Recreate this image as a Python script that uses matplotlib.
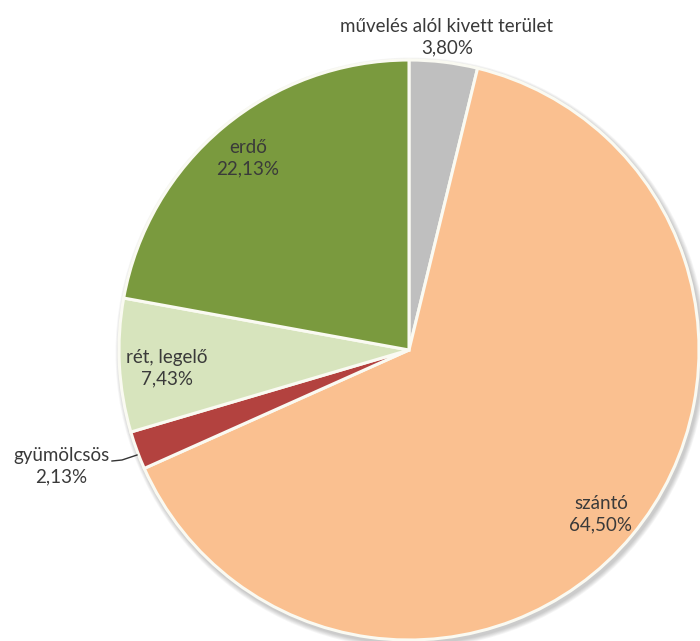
import matplotlib
matplotlib.use("Agg")
import matplotlib.pyplot as plt
import numpy as np

# land use shares (%)
categories = ["művelés alól kivett terület", "szántó", "gyümölcsös", "rét, legelő", "erdő"]
shares = [3.80, 64.50, 2.13, 7.43, 22.13]
colors = ["#BFBFBF", "#FAC090", "#B3423F", "#D7E4BD", "#7A9A3E"]

# label anchors, in units of the pie radius from the centre
label_pos = [(0.131, 1.08), (0.662, -0.566), (-1.20, -0.40), (-0.834, -0.062), (-0.555, 0.662)]

plt.rcParams["font.family"] = ["Lato", "DejaVu Sans"]

fig = plt.figure(figsize=(7.0, 6.41), dpi=100)
ax = fig.add_axes([0, 0, 1, 1])

cx, cy, r = 409, 641 - 350, 290

# soft shadow under the pie
for k in range(6):
    ax.add_patch(plt.Circle((cx + 2, cy - 3), r + 1.5 + k * 0.8, color="#000000",
                            alpha=0.035, lw=0, zorder=0))

wedges, _ = ax.pie(shares, colors=colors, startangle=90, counterclock=False,
                   center=(cx, cy), radius=r, frame=True,
                   wedgeprops=dict(edgecolor="#FAFAF2", linewidth=2.2))
ax.set_xlim(0, 700)
ax.set_ylim(0, 641)
ax.set_aspect("equal")
ax.axis("off")

for name, val, (px, py) in zip(categories, shares, label_pos):
    txt = "%s\n%s%%" % (name, ("%.2f" % val).replace(".", ","))
    ax.text(cx + px * r, cy + py * r, txt, ha="center", va="center",
            fontsize=13.5, color="#3A3A3A", linespacing=1.3, zorder=5)

# leader line for the small slice
gx = cx + label_pos[2][0] * r
gy = cy + label_pos[2][1] * r
ax.plot([gx + 51, gx + 61, gx + 76], [gy + 5, gy + 6, gy + 11],
        color="#333333", lw=1, zorder=5)

fig.savefig("out.png", dpi=100)
